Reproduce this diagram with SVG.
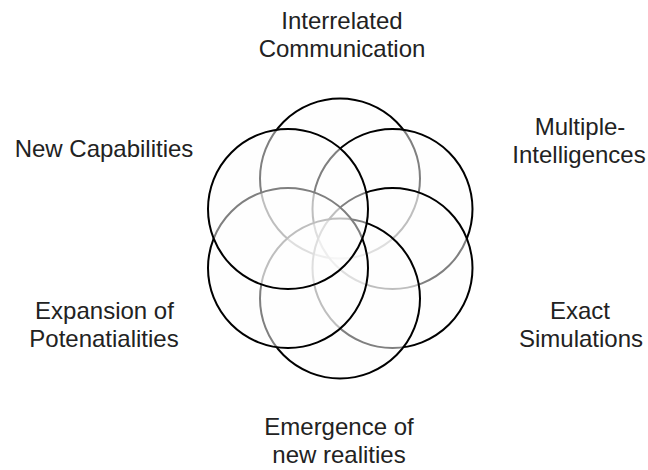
<svg xmlns="http://www.w3.org/2000/svg" width="648" height="470" viewBox="0 0 648 470">
<style>
.c{fill:#fdfdfd;fill-opacity:0.5;stroke:#000;stroke-width:2}
text{font-family:"Liberation Sans",Arial,sans-serif;font-size:24px;fill:#222;text-anchor:middle}
</style>
<rect width="648" height="470" fill="#fff"/>
<g id="connectors"/>
<g id="node-top"><circle class="c" cx="340" cy="178.5" r="80"/></g>
<g id="node-upper-right"><circle class="c" cx="392.5" cy="209" r="80"/></g>
<g id="node-lower-right"><circle class="c" cx="392.5" cy="268" r="80"/></g>
<g id="node-bottom"><circle class="c" cx="340" cy="298.5" r="80"/></g>
<g id="node-lower-left"><circle class="c" cx="288" cy="268" r="80"/></g>
<g id="node-upper-left"><circle class="c" cx="288" cy="209" r="80"/></g>
<g id="label-top"><text x="342" y="28.5">Interrelated</text><text x="342" y="56.8">Communication</text></g>
<g id="label-upper-right"><text x="580" y="135">Multiple-</text><text x="579" y="163.3">Intelligences</text></g>
<g id="label-lower-right"><text x="580" y="319.3">Exact</text><text x="581" y="346.7">Simulations</text></g>
<g id="label-bottom"><text x="339" y="435">Emergence of</text><text x="339" y="463.3">new realities</text></g>
<g id="label-lower-left"><text x="104.5" y="319.3">Expansion of</text><text x="104" y="346.7">Potenatialities</text></g>
<g id="label-upper-left"><text x="104" y="156.7">New Capabilities</text></g>
</svg>
